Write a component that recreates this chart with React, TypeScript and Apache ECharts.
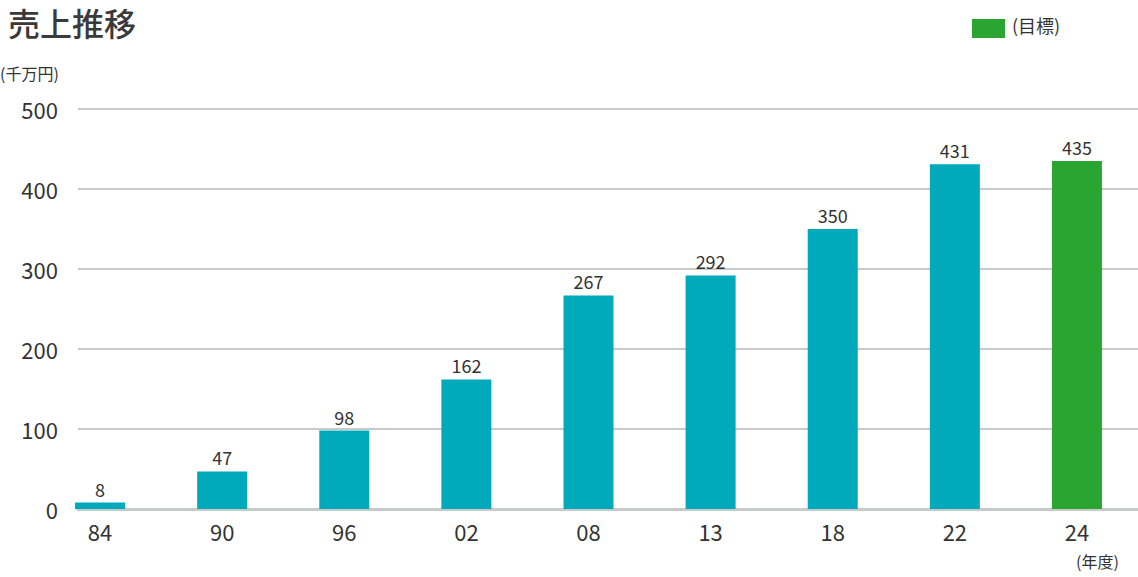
import React, { useEffect, useRef } from "react";
import * as echarts from "echarts";

const categories = ["84", "90", "96", "02", "08", "13", "18", "22", "24"];
const sales = [8, 47, 98, 162, 267, 292, 350, 431, 435];
const isTarget = [false, false, false, false, false, false, false, false, true];
const yTicks = [0, 100, 200, 300, 400, 500];

const FONT = "'Noto Sans CJK JP', 'Noto Sans', sans-serif";
const TEAL = "#00aabb";
const GREEN = "#2aa532";
const TEXT = "#333333";
const GRID_LINE = "#c8c9c9";

export default function App() {
  const ref = useRef<HTMLDivElement>(null);
  useEffect(() => {
    if (!ref.current) return;
    const chart = echarts.init(ref.current, undefined, { renderer: "svg" });
    const yBase = {
      type: "value",
      min: yTicks[0],
      max: yTicks[yTicks.length - 1],
      interval: 100,
      axisLine: { show: false },
      axisTick: { show: false },
    };
    chart.setOption({
      animation: false,
      textStyle: { fontFamily: FONT },
      title: {
        text: "売上推移",
        left: 3,
        top: 0,
        padding: [3, 5],
        textStyle: { color: "#3a3a3a", fontSize: 32, fontWeight: 500, fontFamily: FONT, lineHeight: 38 },
      },
      grid: [
        { left: 78, right: 0, top: 109, bottom: 68, containLabel: false },
        { left: 39, right: -6, top: 109, bottom: 68, containLabel: false },
      ],
      xAxis: [
        {
          gridIndex: 0,
          type: "category",
          data: categories,
          axisLine: { lineStyle: { color: GRID_LINE, width: 3 } },
          axisTick: { show: false },
          axisLabel: { show: false },
        },
        {
          gridIndex: 1,
          type: "category",
          data: categories,
          axisLine: { show: false },
          axisTick: { show: false },
          axisLabel: { color: TEXT, fontSize: 22, margin: 11, fontFamily: FONT },
        },
      ],
      yAxis: [
        {
          ...yBase,
          gridIndex: 0,
          splitLine: { lineStyle: { color: GRID_LINE, width: 2 } },
          axisLabel: { color: TEXT, fontSize: 22, margin: 20, fontFamily: FONT },
        },
        {
          ...yBase,
          gridIndex: 1,
          splitLine: { show: false },
          axisLabel: { show: false },
        },
      ],
      series: [
        {
          type: "bar",
          xAxisIndex: 1,
          yAxisIndex: 1,
          barWidth: 50,
          data: sales.map((v, i) => ({
            value: v,
            itemStyle: { color: isTarget[i] ? GREEN : TEAL },
          })),
          label: {
            show: true,
            position: "top",
            distance: 5,
            color: TEXT,
            fontSize: 18,
            fontFamily: FONT,
          },
        },
      ],
      graphic: [
        {
          type: "text",
          left: 0,
          top: 65,
          style: { text: "(千万円)", fill: TEXT, fontSize: 16, fontFamily: FONT },
        },
        {
          type: "rect",
          left: 972,
          top: 19,
          shape: { width: 33, height: 19 },
          style: { fill: GREEN },
        },
        {
          type: "text",
          left: 1012,
          top: 16,
          style: { text: "(目標)", fill: TEXT, fontSize: 18, fontFamily: FONT },
        },
        {
          type: "text",
          left: 1076,
          top: 553,
          style: { text: "(年度)", fill: TEXT, fontSize: 16, fontFamily: FONT },
        },
      ],
    });
    return () => chart.dispose();
  }, []);
  return <div ref={ref} style={{ width: 1138, height: 577, position: "absolute", left: 0, top: 0 }} />;
}
